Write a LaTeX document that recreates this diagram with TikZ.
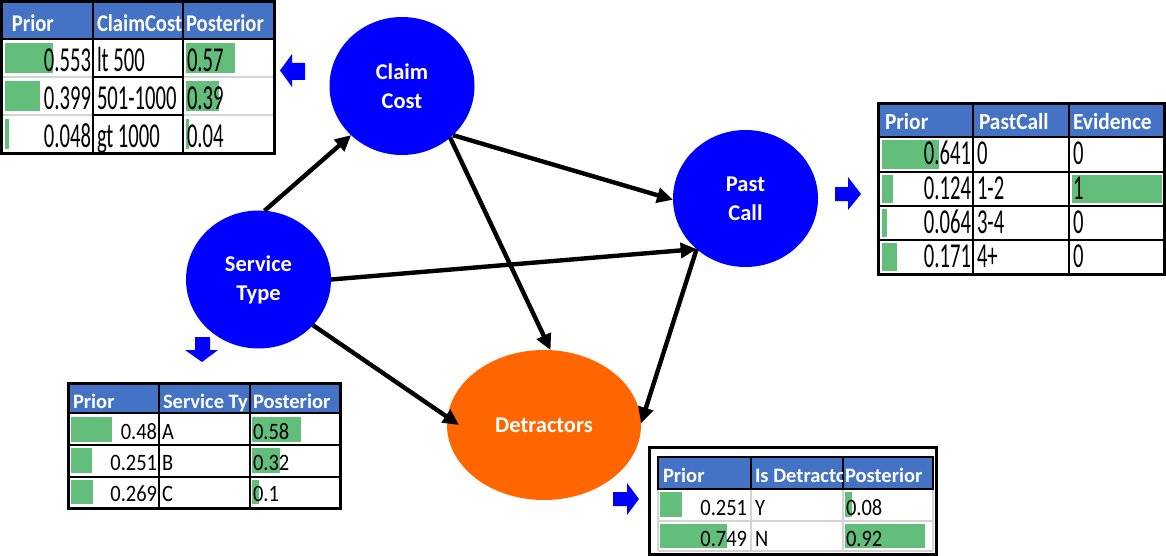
\documentclass[tikz,border=0pt]{standalone}
\usepackage{fontspec}
\setmainfont{Carlito}
\newfontfamily\fA{Carlito}[FakeStretch=0.59]
\newfontfamily\fB{Carlito}[FakeStretch=0.87]
\newfontfamily\hA{Carlito}[FakeStretch=0.86]
\newfontfamily\hB{Carlito}[FakeStretch=0.93]
\newfontfamily\hC{Carlito}
\usetikzlibrary{shapes.geometric,arrows.meta,calc}
\definecolor{nodeblue}{HTML}{0000FF}
\definecolor{detorange}{HTML}{FF6600}
\definecolor{hdrblue}{HTML}{4472C4}
\definecolor{bargreen}{HTML}{63BE7B}
\definecolor{lightgrid}{HTML}{D4D4D4}
\tikzset{
  bn/.style={ellipse, fill=nodeblue, text=white, inner sep=0pt, outer sep=0pt, align=center,
    font=\hC\bfseries\fontsize{22.5}{29}\selectfont},
  link/.style={line width=4.4pt, -{Triangle[length=16pt,width=15pt]}, black},
  bar/.style={fill=bargreen},
  hdrfill/.style={fill=hdrblue},
  blk/.style={line width=2pt, black},
  gry/.style={line width=1.6pt, lightgrid},
  outer/.style={line width=3pt, black},
  blockarrow/.style={fill=nodeblue},
  dA/.style={font=\fA\fontsize{35}{35}\selectfont, inner sep=0pt, outer sep=0pt, text=black},
  dB/.style={font=\fB\fontsize{23.5}{24}\selectfont, inner sep=0pt, outer sep=0pt, text=black},
  hTL/.style={font=\hA\bfseries\fontsize{24}{24}\selectfont, inner sep=0pt, outer sep=0pt, text=white},
  hTR/.style={font=\hB\bfseries\fontsize{23}{23}\selectfont, inner sep=0pt, outer sep=0pt, text=white},
  hBL/.style={font=\hC\bfseries\fontsize{20.5}{21}\selectfont, inner sep=0pt, outer sep=0pt, text=white},
}
\begin{document}
\begin{tikzpicture}[x=1pt,y=-1pt]
\useasboundingbox (0,0) rectangle (1166,556);
\fill[white] (0,0) rectangle (1166,556);

% ---------------- Top-left table (Claim Cost) ----------------
\fill[hdrfill] (2,2) rectangle (274,39);
\fill[bar] (5,43) rectangle (53,73);
\fill[bar] (5,81) rectangle (40,111);
\fill[bar] (5,119) rectangle (9,149);
\fill[bar] (186,43) rectangle (235,73);
\fill[bar] (186,81) rectangle (219,111);
\fill[bar] (186,119) rectangle (189,149);
\draw[gry] (2,77) -- (93,77) (2,115) -- (93,115) (183,77) -- (274,77) (183,115) -- (274,115);
\draw[blk] (93,2) -- (93,154) (183,2) -- (183,154) (2,39) -- (274,39) (93,77) -- (183,77) (93,115) -- (183,115);
\draw[outer] (1.5,1.5) rectangle (274,154);
\node[hTL, anchor=base west] (tlh1) at (12,32) {Prior};
\node[hTL, anchor=base west] (tlh2) at (97,32) {ClaimCost};
\node[hTL, anchor=base west] (tlh3) at (186,32) {Posterior};
\node[dA, anchor=base east] (tla1) at (91,72) {0.553};
\node[dA, anchor=base east] (tla2) at (91,110) {0.399};
\node[dA, anchor=base east] (tla3) at (91,148) {0.048};
\node[dA, anchor=base west] (tlb1) at (97,72) {lt 500};
\node[dA, anchor=base west] (tlb2) at (97,110) {501-1000};
\node[dA, anchor=base west] (tlb3) at (97,148) {gt 1000};
\node[dA, anchor=base west] (tlc1) at (187,72) {0.57};
\node[dA, anchor=base west] (tlc2) at (187,110) {0.39};
\node[dA, anchor=base west] (tlc3) at (187,148) {0.04};

% ---------------- Top-right table (Past Call) ----------------
\fill[hdrfill] (878,104) rectangle (1164,137);
\fill[bar] (882,140) rectangle (939,169);
\fill[bar] (882,175) rectangle (893,203);
\fill[bar] (882,209) rectangle (887,237);
\fill[bar] (882,243) rectangle (897,271);
\fill[bar] (1072,175) rectangle (1162,203);
\draw[blk] (973,104) -- (973,274) (1069,104) -- (1069,274)
  (878,137) -- (1164,137) (878,172) -- (1164,172) (878,206) -- (1164,206) (878,240) -- (1164,240);
\draw[outer] (878,104) rectangle (1164,274);
\node[hTR, anchor=base west] (trh1) at (885,130) {Prior};
\node[hTR, anchor=base west] (trh2) at (979,130) {PastCall};
\node[hTR, anchor=base west] (trh3) at (1073,130) {Evidence};
\node[dA, anchor=base east] (tra1) at (971,165) {0.641};
\node[dA, anchor=base east] (tra2) at (971,199) {0.124};
\node[dA, anchor=base east] (tra3) at (971,233) {0.064};
\node[dA, anchor=base east] (tra4) at (971,267) {0.171};
\node[dA, anchor=base west] (trb1) at (977,165) {0};
\node[dA, anchor=base west] (trb2) at (977,199) {1-2};
\node[dA, anchor=base west] (trb3) at (977,233) {3-4};
\node[dA, anchor=base west] (trb4) at (977,267) {4+};
\node[dA, anchor=base west] (trc1) at (1073,165) {0};
\node[dA, anchor=base west] (trc2) at (1073,199) {1};
\node[dA, anchor=base west] (trc3) at (1073,233) {0};
\node[dA, anchor=base west] (trc4) at (1073,267) {0};

% ---------------- Bottom-left table (Service Type) ----------------
\fill[hdrfill] (68,383) rectangle (340,413);
\fill[bar] (71,417) rectangle (112,442);
\fill[bar] (71,448) rectangle (92,473);
\fill[bar] (71,480) rectangle (93,504);
\fill[bar] (252,417) rectangle (301,442);
\fill[bar] (252,448) rectangle (280,473);
\fill[bar] (252,480) rectangle (259,504);
\draw[blk] (159,383) -- (159,508) (250,383) -- (250,508)
  (68,413) -- (340,413) (68,445) -- (340,445) (68,477) -- (340,477);
\draw[outer] (68,383) rectangle (340,508);
\node[hBL, anchor=base west] (blh1) at (73,408) {Prior};
\begin{scope}
\clip (160,384) rectangle (249,412);
\node[hBL, anchor=base west] (blh2) at (163,408) {Service Ty};
\end{scope}
\node[hBL, anchor=base west] (blh3) at (253,408) {Posterior};
\node[dB, anchor=base east] (bla1) at (157,439) {0.48};
\node[dB, anchor=base east] (bla2) at (157,470) {0.251};
\node[dB, anchor=base east] (bla3) at (157,501) {0.269};
\node[dB, anchor=base west] (blb1) at (162,439) {A};
\node[dB, anchor=base west] (blb2) at (162,470) {B};
\node[dB, anchor=base west] (blb3) at (162,501) {C};
\node[dB, anchor=base west] (blc1) at (253,439) {0.58};
\node[dB, anchor=base west] (blc2) at (253,470) {0.32};
\node[dB, anchor=base west] (blc3) at (253,501) {0.1};

% ---------------- Bottom-right table (Detractors) ----------------
\fill[hdrfill] (658,457) rectangle (933,489);
\fill[bar] (660,492) rectangle (682,517);
\fill[bar] (660,524) rectangle (727,548);
\fill[bar] (845,492) rectangle (852,517);
\fill[bar] (845,524) rectangle (925,548);
\draw[gry] (658,489) -- (658,551) (751,489) -- (751,551) (843,489) -- (843,551) (933,489) -- (933,551)
  (658,521) -- (933,521) (658,551) -- (933,551);
\draw[blk] (658,457) rectangle (933,489) (751,457) -- (751,489) (843,457) -- (843,489);
\draw[outer] (649.5,447) rectangle (936,554);
\node[hBL, anchor=base west] (brh1) at (663,482) {Prior};
\begin{scope}
\clip (752,458) rectangle (842,488);
\node[hBL, anchor=base west] (brh2) at (755,482) {Is Detracto};
\end{scope}
\node[hBL, anchor=base west] (brh3) at (845,482) {Posterior};
\node[dB, anchor=base east] (bra1) at (747,515) {0.251};
\node[dB, anchor=base east] (bra2) at (747,546) {0.749};
\node[dB, anchor=base west] (brb1) at (755,515) {Y};
\node[dB, anchor=base west] (brb2) at (755,546) {N};
\node[dB, anchor=base west] (brc1) at (846,515) {0.08};
\node[dB, anchor=base west] (brc2) at (846,546) {0.92};

% ---------------- Blue block arrows ----------------
\fill[blockarrow] (280,70.5) -- (292,54) -- (292,63) -- (305,63) -- (305,80) -- (292,80) -- (292,87) -- cycle;
\fill[blockarrow] (861,194) -- (848,177) -- (848,187) -- (835,187) -- (835,201) -- (848,201) -- (848,210) -- cycle;
\fill[blockarrow] (639,499) -- (627,483) -- (627,492) -- (613,492) -- (613,506) -- (627,506) -- (627,515) -- cycle;
\fill[blockarrow] (202,362) -- (185,350) -- (195,350) -- (195,337) -- (210,337) -- (210,350) -- (218,350) -- cycle;

% ---------------- Network nodes ----------------
\node[bn, minimum width=145pt, minimum height=138pt] (cc) at (402,86) {Claim\\Cost};
\node[bn, minimum width=145pt, minimum height=138pt] (st) at (258.5,279.5) {Service\\Type};
\node[bn, minimum width=145pt, minimum height=137pt] (pc) at (745.5,198.5) {Past\\Call};
\node[bn, fill=detorange, minimum width=194pt, minimum height=150pt] (dt) at (544,425) {Detractors};

% ---------------- Connectors ----------------
\draw[link] (st.85) -- (cc.224);
\draw[link] (cc.316) -- (pc.181);
\draw[link] (cc.313) -- (dt.85);
\draw[link] (st.0) -- (pc.226);
\draw[link] (st.320) -- ($(dt.west)+(12,0)$);
\draw[link] (pc.226) -- (dt.1);
\end{tikzpicture}
\end{document}
